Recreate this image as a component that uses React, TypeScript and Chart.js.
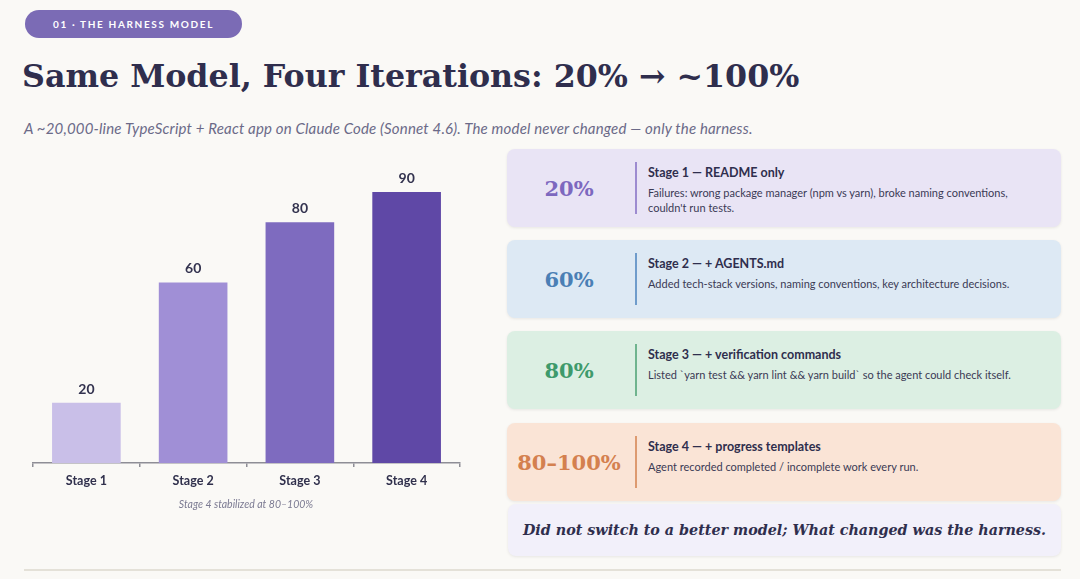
import React, { useEffect, useRef } from "react";
import { Chart, registerables } from "chart.js";

Chart.register(...registerables);

// ---- Data ----
const categories = ["Stage 1", "Stage 2", "Stage 3", "Stage 4"];
const successRates = [20, 60, 80, 90];
const barColors = ["#c9bfe8", "#a08fd6", "#7e6bbf", "#5f48a6"];
const yMin = 0;
const yMax = 100;

const cardPercents = ["20%", "60%", "80%", "80–100%"];
const cardTitles = [
  "Stage 1 — README only",
  "Stage 2 — + AGENTS.md",
  "Stage 3 — + verification commands",
  "Stage 4 — + progress templates",
];
const cardDescs = [
  "Failures: wrong package manager (npm vs yarn), broke naming conventions, couldn't run tests.",
  "Added tech-stack versions, naming conventions, key architecture decisions.",
  "Listed `yarn test && yarn lint && yarn build` so the agent could check itself.",
  "Agent recorded completed / incomplete work every run.",
];
const cardBgs = ["#e9e4f5", "#dde9f4", "#dcefe3", "#fae4d6"];
const cardAccents = ["#7d68bf", "#4a7fb5", "#3e9a6b", "#d4804f"];
const cardLines = ["#9d8bd0", "#6f9ccb", "#6fb48e", "#dd9a70"];
const cardTops = [149, 240, 331, 423];

const badgeText = "01 · THE HARNESS MODEL";
const titleText = "Same Model, Four Iterations: 20% → ~100%";
const subtitleText =
  "A ~20,000-line TypeScript + React app on Claude Code (Sonnet 4.6). The model never changed — only the harness.";
const captionText = "Stage 4 stabilized at 80–100%";
const footerText = "Did not switch to a better model; What changed was the harness.";

const SANS = "Lato, 'Noto Sans', sans-serif";
const SERIF = "'DejaVu Serif', Georgia, serif";
const INK = "#2f2e4d";

const valueLabelPlugin = {
  id: "valueLabels",
  afterDatasetsDraw(chart: any) {
    const { ctx } = chart;
    const meta = chart.getDatasetMeta(0);
    ctx.save();
    ctx.font = `bold 14px ${SANS}`;
    ctx.fillStyle = "#33334f";
    ctx.textAlign = "center";
    ctx.textBaseline = "alphabetic";
    meta.data.forEach((bar: any, i: number) => {
      ctx.fillText(String(chart.data.datasets[0].data[i]), bar.x, bar.y - 9);
    });
    ctx.restore();
  },
};

function BarChart() {
  const ref = useRef<HTMLCanvasElement | null>(null);
  useEffect(() => {
    if (!ref.current) return;
    const chart = new Chart(ref.current, {
      type: "bar",
      data: {
        labels: categories,
        datasets: [
          {
            data: successRates,
            backgroundColor: barColors,
            borderWidth: 0,
            categoryPercentage: 1,
            barPercentage: 0.643,
          },
        ],
      },
      options: {
        animation: false,
        responsive: true,
        maintainAspectRatio: false,
        layout: { padding: { left: 13, right: 15, top: 12, bottom: 0 } },
        plugins: { legend: { display: false }, tooltip: { enabled: false }, title: { display: false } },
        scales: {
          x: {
            afterFit(scale: any) {
              scale.height = 37;
            },
            grid: {
              drawOnChartArea: false,
              drawTicks: true,
              tickLength: 4,
              color: "#8e8e96",
              lineWidth: 1.5,
            },
            border: { display: true, color: "#8e8e96", width: 1.5 },
            ticks: {
              color: "#30304c",
              font: { family: SANS, size: 12.5, weight: "bold" },
              padding: 6,
            },
          },
          y: { display: false, min: yMin, max: yMax },
        },
      },
      plugins: [valueLabelPlugin],
    } as any);
    return () => chart.destroy();
  }, []);
  return <canvas ref={ref} />;
}

export default function App() {
  return (
    <div
      style={{
        position: "fixed",
        left: 0,
        top: 0,
        width: 1080,
        height: 579,
        background: "#faf9f6",
        overflow: "hidden",
        fontFamily: SANS,
      }}
    >
      {/* Badge */}
      <div
        style={{
          position: "absolute",
          left: 25,
          top: 10,
          width: 217,
          height: 28,
          borderRadius: 14,
          background: "#7b6bb5",
          color: "#ffffff",
          fontFamily: SANS,
          fontWeight: 700,
          fontSize: 10,
          letterSpacing: 1.65,
          lineHeight: "28px",
          textAlign: "center",
        }}
      >
        {badgeText}
      </div>

      {/* Title */}
      <div
        style={{
          position: "absolute",
          left: 22,
          top: 60,
          fontFamily: SERIF,
          fontWeight: 700,
          fontSize: 31.7,
          lineHeight: "32px",
          color: INK,
          whiteSpace: "nowrap",
        }}
      >
        {titleText}
      </div>

      {/* Subtitle */}
      <div
        style={{
          position: "absolute",
          left: 24,
          top: 119,
          fontFamily: SANS,
          fontStyle: "italic",
          fontSize: 15,
          letterSpacing: 0.17,
          lineHeight: "18px",
          color: "#6b6a88",
          whiteSpace: "nowrap",
        }}
      >
        {subtitleText}
      </div>

      {/* Chart */}
      <div style={{ position: "absolute", left: 20, top: 150, width: 455, height: 350 }}>
        <BarChart />
      </div>
      <div
        style={{
          position: "absolute",
          left: 146,
          width: 200,
          top: 497,
          textAlign: "center",
          fontFamily: SANS,
          fontStyle: "italic",
          fontSize: 10.5,
          lineHeight: "14px",
          color: "#7b7a92",
          whiteSpace: "nowrap",
        }}
      >
        {captionText}
      </div>

      {/* Cards */}
      {cardTitles.map((t, i) => (
        <div
          key={i}
          style={{
            position: "absolute",
            left: 507,
            top: cardTops[i],
            width: 554,
            height: 78,
            borderRadius: 8,
            background: cardBgs[i],
            boxShadow: "0 1px 3px rgba(0,0,0,0.08)",
          }}
        >
          <div
            style={{
              position: "absolute",
              left: 0,
              top: 0,
              width: 124,
              height: 78,
              display: "flex",
              alignItems: "center",
              justifyContent: "center",
              fontFamily: SERIF,
              fontWeight: 700,
              fontSize: 21,
              color: cardAccents[i],
              whiteSpace: "nowrap",
            }}
          >
            {cardPercents[i]}
          </div>
          <div
            style={{
              position: "absolute",
              left: 128,
              top: 13,
              width: 2,
              height: 52,
              background: cardLines[i],
            }}
          />
          <div style={{ position: "absolute", left: 141, top: 16, width: 395 }}>
            <div
              style={{
                fontWeight: 700,
                fontSize: 12.5,
                lineHeight: "16px",
                color: INK,
              }}
            >
              {t}
            </div>
            <div
              style={{
                marginTop: 4,
                fontSize: 11,
                lineHeight: "15px",
                color: "#3b3a55",
              }}
            >
              {cardDescs[i]}
            </div>
          </div>
        </div>
      ))}

      {/* Footer box */}
      <div
        style={{
          position: "absolute",
          left: 508,
          top: 504,
          width: 553,
          height: 52,
          borderRadius: 8,
          background: "#f2f0fa",
          boxShadow: "0 1px 3px rgba(0,0,0,0.08)",
          display: "flex",
          alignItems: "center",
          justifyContent: "center",
          fontFamily: SERIF,
          fontWeight: 700,
          fontStyle: "italic",
          fontSize: 14.3,
          color: INK,
          whiteSpace: "nowrap",
        }}
      >
        {footerText}
      </div>

      {/* Bottom rule */}
      <div
        style={{
          position: "absolute",
          left: 24,
          top: 569,
          width: 1037,
          height: 1.5,
          background: "#e4e1d8",
        }}
      />
    </div>
  );
}
